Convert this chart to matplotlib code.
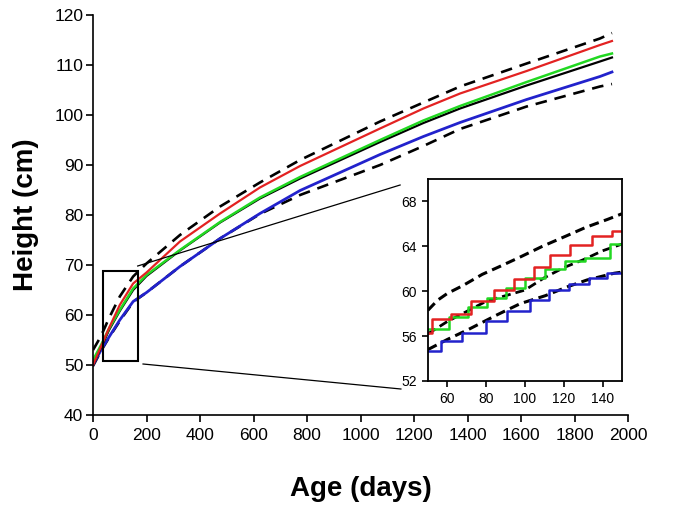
import matplotlib
matplotlib.use("Agg")
import matplotlib.pyplot as plt
from matplotlib.patches import Rectangle

plt.rcParams['font.family'] = ['Liberation Sans', 'DejaVu Sans']

# main curves (age in days, height in cm)
age = [0, 30, 60, 100, 150, 200, 325, 475, 624, 774, 1073, 1235, 1372, 1621, 1895, 1940]
upper_ref = [53.0, 55.8, 59.4, 63.7, 67.7, 70.3, 76.0, 81.7, 86.5, 91.0, 98.7, 102.5, 105.7, 110.3, 115.3, 116.4]
median_ref = [50.0, 53.5, 57.0, 60.8, 65.0, 67.8, 72.9, 78.5, 83.3, 87.3, 94.6, 98.4, 101.3, 105.9, 110.7, 111.5]
lower_ref = [49.8, 52.8, 55.5, 58.8, 62.6, 64.5, 69.7, 75.3, 80.2, 84.0, 90.0, 93.8, 97.2, 101.7, 105.7, 106.2]
red_h = [50.0, 53.7, 57.4, 62.0, 66.3, 68.5, 74.7, 80.3, 85.5, 89.8, 97.3, 101.3, 104.3, 108.8, 114.0, 114.8]
green_h = [51.0, 54.0, 57.3, 61.0, 65.3, 68.0, 73.0, 78.6, 83.5, 87.6, 95.0, 98.9, 101.8, 106.6, 111.7, 112.3]
blue_h = [50.0, 53.0, 55.6, 59.0, 62.7, 64.5, 69.7, 75.3, 80.3, 84.9, 92.1, 95.7, 98.5, 103.1, 107.7, 108.6]

# inset (zoom on 50-150 days)
ins_up_t = [50, 55, 60, 68, 78, 87, 97, 109, 121, 131.5, 142.6, 150]
ins_up_h = [58.3, 59.2, 59.8, 60.5, 61.5, 62.2, 63.0, 64.0, 64.9, 65.7, 66.4, 66.9]
ins_med_t = [50, 60, 70, 80, 90, 100, 110, 120, 130, 140, 150]
ins_med_h = [56.2, 57.3, 58.2, 59.1, 59.6, 60.1, 61.2, 62.1, 62.8, 63.6, 64.2]
ins_low_t = [50, 60, 71, 85.7, 97.7, 110.5, 122, 132, 146, 150]
ins_low_h = [54.8, 55.7, 56.6, 57.9, 58.9, 59.6, 60.4, 61.0, 61.6, 61.7]

red_step_t = [50, 52.2, 61.7, 72, 84, 94.2, 104.5, 113, 123.4, 134.5, 144.8, 150]
red_step_h = [56.3, 57.5, 58.0, 59.1, 60.1, 61.1, 62.2, 63.2, 64.1, 64.9, 65.4, 65.4]
green_step_t = [50, 60.8, 70.6, 80.5, 90, 100.2, 110.5, 120.8, 131, 144, 150]
green_step_h = [56.6, 57.7, 58.6, 59.4, 60.3, 61.2, 62.0, 62.7, 63.0, 64.2, 64.2]
blue_step_t = [50, 56.5, 67.7, 79.7, 90.8, 102.8, 112.3, 122.5, 132.8, 142.3, 150]
blue_step_h = [54.7, 55.6, 56.3, 57.3, 58.2, 59.2, 60.1, 60.6, 61.2, 61.6, 61.6]

RED = '#e32222'
GREEN = '#22d822'
BLUE = '#2222cc'

fig = plt.figure(figsize=(6.75, 5.14), dpi=100)
ax = fig.add_axes([0.1378, 0.1926, 0.7926, 0.7782])

dash = (0, (4.4, 3.0))
ax.plot(age, lower_ref, color='black', lw=1.9, ls=dash)
ax.plot(age, upper_ref, color='black', lw=1.9, ls=dash)
ax.plot(age, blue_h, color=BLUE, lw=2.0)
ax.plot(age, median_ref, color='black', lw=1.6)
ax.plot(age, green_h, color=GREEN, lw=1.8)
ax.plot(age, red_h, color=RED, lw=1.6)

ax.set_xlim(0, 2000)
ax.set_ylim(40, 120)
ax.set_xticks(range(0, 2001, 200))
ax.set_yticks(range(40, 121, 10))
ax.tick_params(direction='out', length=5, width=1.2, labelsize=12.5, pad=4)
ax.tick_params(axis='y', pad=2)
for s in ['top', 'right']:
    ax.spines[s].set_visible(False)
for s in ['left', 'bottom']:
    ax.spines[s].set_linewidth(1.2)
ax.set_xlabel('Age (days)', fontsize=20, fontweight='bold', labelpad=24)
ax.set_ylabel('Height (cm)', fontsize=20, fontweight='bold', labelpad=11)

# zoom box and its connector lines
ax.add_patch(Rectangle((36, 50.9), 131, 17.9, fill=False, lw=1.5, ec='black', zorder=5))
ax.plot([167, 1148], [69.8, 86.0], color='black', lw=0.9, zorder=4)
ax.plot([187, 1151], [50.2, 45.2], color='black', lw=0.9, zorder=4)

ins = fig.add_axes([0.634, 0.2588, 0.2874, 0.393])
ins.plot(ins_up_t, ins_up_h, color='black', lw=2.2, ls=(0, (3.2, 1.8)))
ins.plot(ins_low_t, ins_low_h, color='black', lw=2.2, ls=(0, (3.2, 1.8)))
ins.plot(ins_med_t, ins_med_h, color='black', lw=2.0, ls=(0, (3.2, 1.8)))
ins.step(blue_step_t, blue_step_h, where='post', color=BLUE, lw=1.8)
ins.step(green_step_t, green_step_h, where='post', color=GREEN, lw=1.8)
ins.step(red_step_t, red_step_h, where='post', color=RED, lw=1.8)
ins.set_xlim(50, 150)
ins.set_ylim(52, 70)
ins.set_xticks(range(60, 141, 20))
ins.set_yticks(range(52, 69, 4))
ins.tick_params(direction='out', length=4, width=1.2, labelsize=10, pad=4)
for s in ins.spines.values():
    s.set_linewidth(1.3)

fig.savefig('out.png', dpi=100)
